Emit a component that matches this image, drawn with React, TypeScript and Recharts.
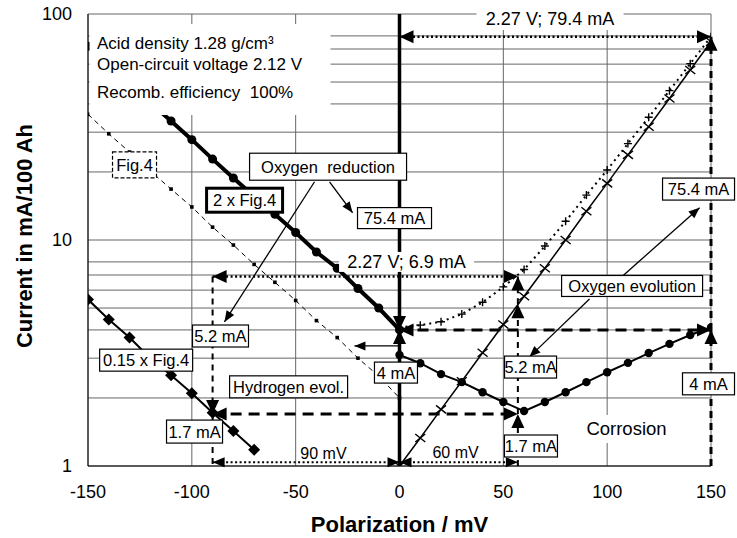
import {
  CartesianGrid,
  ComposedChart,
  Line,
  ReferenceDot,
  ReferenceLine,
  XAxis,
  YAxis,
} from 'recharts';

const FONT = '"Liberation Sans", Arial, Helvetica, sans-serif';

// cathodic side, -150 ... 0 mV
const cathodicX = [-150, -140, -130, -120, -110, -100, -90, -80, -70, -60, -50, -40, -30, -20, -10, 0];
const fig4Current = [36, 29.5, 24.5, 20.2, 16.8, 14, 11.4, 9.5, 7.8, 6.5, 5.4, 4.4, 3.7, 3.0, 2.5, 2.0];
const doubleFig4Current = [72, 59, 49, 40.5, 33.6, 27.8, 22.8, 18.8, 15.6, 13.0, 10.8, 8.85, 7.5, 6.1, 5.0, 4.0];

// hydrogen evolution (0.15 x Fig.4), -150 ... -70 mV
const hydrogenX = [-150, -140, -130, -120, -110, -100, -90, -80, -70];
const hydrogenCurrent = [5.45, 4.45, 3.7, 3.0, 2.52, 2.1, 1.72, 1.43, 1.18];

// anodic side, 0 ... 150 mV
const anodicX = [0, 10, 20, 30, 40, 50, 60, 70, 80, 90, 100, 110, 120, 130, 140, 150];
const corrosionCurrent = [3.1, 2.85, 2.55, 2.35, 2.12, 1.92, 1.75, 1.92, 2.12, 2.35, 2.6, 2.86, 3.16, 3.47, 3.8, 4.1];
const oxygenEvolutionCurrent = [1.0, 1.33, 1.78, 2.37, 3.17, 4.23, 5.64, 7.5, 10.0, 13.4, 17.8, 23.8, 31.7, 42.3, 56.5, 75.4];
const totalAnodicCurrent = [4.1, 4.2, 4.35, 4.7, 5.3, 6.2, 7.4, 9.4, 12.1, 15.8, 20.4, 26.7, 34.9, 45.8, 60.3, 79.4];

const xTicks = [-150, -100, -50, 0, 50, 100, 150];
const yTicks = [1, 2, 3, 4, 5, 6, 7, 8, 9, 10, 20, 30, 40, 50, 60, 70, 80, 90, 100];
const yTickLabels = [1, 10, 100];

const toPoints = (xs: number[], ys: number[]) => xs.map((x, i) => ({ x, y: ys[i] }));

const fig4Data = toPoints(cathodicX, fig4Current);
const doubleFig4Data = toPoints(cathodicX, doubleFig4Current);
const hydrogenData = toPoints(hydrogenX, hydrogenCurrent);
const corrosionData = toPoints(anodicX, corrosionCurrent);
const oxygenData = toPoints(anodicX, oxygenEvolutionCurrent);
const totalData = toPoints(anodicX, totalAnodicCurrent);

// ---- markers
const circleDot = (r: number) => (p: any) => (
  <circle key={`c-${p.index}`} cx={p.cx} cy={p.cy} r={r} fill="#000" />
);
const squareDot = (p: any) => (
  <rect key={`s-${p.index}`} x={p.cx - 1.8} y={p.cy - 1.8} width={3.6} height={3.6} fill="#000" />
);
const diamondDot = (p: any) => (
  <polygon
    key={`d-${p.index}`}
    points={`${p.cx},${p.cy - 6} ${p.cx + 6},${p.cy} ${p.cx},${p.cy + 6} ${p.cx - 6},${p.cy}`}
    fill="#000"
  />
);
const crossDot = (p: any) => (
  <path
    key={`x-${p.index}`}
    d={`M${p.cx - 5},${p.cy - 4}L${p.cx + 5},${p.cy + 4}M${p.cx - 5},${p.cy + 4}L${p.cx + 5},${p.cy - 4}`}
    stroke="#000"
    strokeWidth={1.4}
  />
);
const plusDot = (p: any) => (
  <path
    key={`p-${p.index}`}
    d={`M${p.cx - 4},${p.cy}L${p.cx + 4},${p.cy}M${p.cx},${p.cy - 4}L${p.cx},${p.cy + 4}`}
    stroke="#000"
    strokeWidth={1.4}
  />
);

// ---- arrows
const headPoints = (tx: number, ty: number, fx: number, fy: number, len: number, half: number) => {
  const dx = tx - fx;
  const dy = ty - fy;
  const d = Math.hypot(dx, dy) || 1;
  const ux = dx / d;
  const uy = dy / d;
  const bx = tx - ux * len;
  const by = ty - uy * len;
  return `${tx},${ty} ${bx - uy * half},${by + ux * half} ${bx + uy * half},${by - ux * half}`;
};

type ArrowStyle = { w: number; dash?: string; start?: boolean; end?: boolean; len?: number; half?: number };

const arrowShape = (s: ArrowStyle) => (p: any) => {
  const { x1, y1, x2, y2 } = p;
  const len = s.len ?? 14;
  const half = s.half ?? 6.5;
  return (
    <g>
      <line x1={x1} y1={y1} x2={x2} y2={y2} stroke="#000" strokeWidth={s.w} strokeDasharray={s.dash} />
      {s.start && <polygon points={headPoints(x1, y1, x2, y2, len, half)} fill="#000" />}
      {s.end && <polygon points={headPoints(x2, y2, x1, y1, len, half)} fill="#000" />}
    </g>
  );
};

const DOTTED: ArrowStyle = { w: 2.5, dash: '2 2.5' };
const BOLD_DASH: ArrowStyle = { w: 3, dash: '11 7' };
const THIN_DASH: ArrowStyle = { w: 2, dash: '6 5' };
const POINTER: ArrowStyle = { w: 1.3, end: true, len: 11, half: 4.5 };

type Arrow = { from: [number, number]; to: [number, number]; style: ArrowStyle };

const arrows: Arrow[] = [
  // 2.27 V; 79.4 mA
  { from: [0, 79.4], to: [150, 79.4], style: { ...DOTTED, start: true, end: true } },
  { from: [150, 1], to: [150, 4], style: { ...BOLD_DASH, dash: '7 5', end: true } },
  { from: [150, 4], to: [150, 79.4], style: { ...BOLD_DASH, dash: '7 5', end: true } },
  { from: [0, 4], to: [150, 4], style: { ...BOLD_DASH, start: true, end: true } },
  // zero line
  { from: [0, 100], to: [0, 4], style: { w: 3.5, end: true } },
  { from: [0, 1], to: [0, 4], style: { w: 3.5, end: true } },
  // 2.27 V; 6.9 mA
  { from: [-90, 6.9], to: [57, 6.9], style: { ...DOTTED, start: true, end: true } },
  { from: [-90, 6.9], to: [-90, 1.7], style: { ...THIN_DASH, end: true } },
  { from: [-90, 1.7], to: [-90, 1], style: THIN_DASH },
  { from: [57, 1], to: [57, 1.7], style: { ...THIN_DASH, end: true } },
  { from: [57, 1.7], to: [57, 5.2], style: { ...THIN_DASH, end: true } },
  { from: [57, 5.2], to: [57, 6.9], style: { ...THIN_DASH, end: true } },
  { from: [-90, 1.7], to: [57, 1.7], style: { ...BOLD_DASH, start: true, end: true } },
  // 90 mV / 60 mV
  { from: [-90, 1.04], to: [0, 1.04], style: { ...DOTTED, w: 2, start: true, end: true, len: 12, half: 5 } },
  { from: [0, 1.04], to: [57, 1.04], style: { ...DOTTED, w: 2, start: true, end: true, len: 12, half: 5 } },
  // label pointers
  { from: [-40.9, 18.1], to: [-84.3, 4.34], style: POINTER },
  { from: [-33.7, 18.1], to: [-22.6, 13.2], style: POINTER },
  { from: [91.5, 5.48], to: [62.6, 3.04], style: POINTER },
  { from: [106.9, 6.86], to: [144.5, 13.9], style: POINTER },
  { from: [0, 3.4], to: [-21.7, 3.4], style: { ...POINTER, w: 1.2 } },
];

// ---- text boxes
type Note = { text: string; x: number; y: number; w: number; h: number; frame?: 'solid' | 'thick' | 'dashed' | 'none'; size?: number };

const notes: Note[] = [
  { text: '2.27 V; 79.4 mA', x: 72.5, y: 95, w: 147, h: 22, frame: 'none', size: 18 },
  { text: '2.27 V; 6.9 mA', x: 3.4, y: 8.0, w: 135, h: 20, frame: 'none', size: 18 },
  { text: 'Oxygen  reduction', x: -34.4, y: 21.1, w: 157, h: 27 },
  { text: '75.4 mA', x: -2.4, y: 12.5, w: 74, h: 21 },
  { text: '2 x Fig.4', x: -74.6, y: 15.0, w: 76, h: 24, frame: 'thick' },
  { text: 'Fig.4', x: -127.6, y: 21.5, w: 44, h: 26, frame: 'dashed' },
  { text: '0.15 x Fig.4', x: -122, y: 2.94, w: 93, h: 22 },
  { text: '5.2 mA', x: -86.2, y: 3.76, w: 56, h: 22 },
  { text: 'Hydrogen evol.', x: -53.4, y: 2.24, w: 118, h: 22 },
  { text: '1.7 mA', x: -98.7, y: 1.42, w: 56, h: 23 },
  { text: '4 mA', x: -1.7, y: 2.59, w: 43, h: 21 },
  { text: '5.2 mA', x: 63.1, y: 2.74, w: 52, h: 22 },
  { text: '1.7 mA', x: 63.3, y: 1.226, w: 53, h: 22 },
  { text: '4 mA', x: 148.8, y: 2.31, w: 52, h: 22 },
  { text: 'Oxygen evolution', x: 112, y: 6.26, w: 141, h: 21 },
  { text: '75.4 mA', x: 144, y: 16.8, w: 72, h: 22 },
  { text: 'Corrosion', x: 109.3, y: 1.458, w: 90, h: 28, frame: 'none', size: 18.5 },
  { text: '90 mV', x: -36.6, y: 1.14, w: 0, h: 0, frame: 'none', size: 16 },
  { text: '60 mV', x: 27, y: 1.15, w: 0, h: 0, frame: 'none', size: 16 },
];

const noteShape = (n: Note) => (p: any) => {
  const frame = n.frame ?? 'solid';
  return (
    <g>
      {n.w > 0 && (
        <rect
          x={p.cx - n.w / 2}
          y={p.cy - n.h / 2}
          width={n.w}
          height={n.h}
          fill="#fff"
          stroke={frame === 'none' ? 'none' : '#000'}
          strokeWidth={frame === 'thick' ? 3 : 1.2}
          strokeDasharray={frame === 'dashed' ? '4 2' : undefined}
        />
      )}
      <text
        x={p.cx}
        y={p.cy}
        textAnchor="middle"
        dominantBaseline="central"
        fontFamily={FONT}
        fontSize={n.size ?? 16.5}
        fill="#000"
        style={{ whiteSpace: 'pre' }}
      >
        {n.text}
      </text>
    </g>
  );
};

const infoLines = ['Acid density 1.28 g/cm³', 'Open-circuit voltage 2.12 V', 'Recomb. efficiency  100%'];
const infoOffsets = [29, 50, 78];

const infoShape = (p: any) => (
  <g>
    <rect x={p.cx + 1.5} y={p.cy + 10} width={241} height={91} fill="#fff" />
    {infoLines.map((t, i) => (
      <text
        key={t}
        x={p.cx + 9}
        y={p.cy + infoOffsets[i]}
        dominantBaseline="central"
        fontFamily={FONT}
        fontSize={17}
        fill="#000"
        style={{ whiteSpace: 'pre' }}
      >
        {t}
      </text>
    ))}
  </g>
);

const YTitle = (p: any) => {
  const vb = p.viewBox || { x: 0, y: 14, width: 88, height: 452 };
  const cx = vb.x + 24;
  const cy = vb.y + vb.height / 2 - 4;
  return (
    <text
      x={cx}
      y={cy}
      transform={`rotate(-90 ${cx} ${cy})`}
      textAnchor="middle"
      dominantBaseline="central"
      fontFamily={FONT}
      fontWeight="bold"
      fontSize={22}
      fill="#000"
    >
      Current in mA/100 Ah
    </text>
  );
};

const tickStyle = { fontSize: 18, fill: '#000', fontFamily: FONT };

export default function App() {
  return (
    <div style={{ position: 'absolute', left: 0, top: 0 }}>
      <ComposedChart width={737} height={538} margin={{ top: 14, right: 26, bottom: 0, left: 0 }}>
        <CartesianGrid stroke="#666" strokeWidth={1} />
        <XAxis
          type="number"
          dataKey="x"
          domain={[-150, 150]}
          ticks={xTicks}
          allowDataOverflow
          height={72}
          stroke="#000"
          tickLine={false}
          tickSize={0}
          tickMargin={19}
          tick={tickStyle}
          label={{
            value: 'Polarization / mV',
            position: 'insideBottom',
            offset: 6,
            fontSize: 22,
            fontWeight: 'bold',
            fill: '#000',
            fontFamily: FONT,
          }}
        />
        <YAxis
          type="number"
          dataKey="y"
          scale="log"
          domain={[1, 100]}
          ticks={yTicks}
          allowDataOverflow
          width={88}
          stroke="#000"
          tickLine={false}
          tickSize={0}
          tickMargin={16}
          tick={tickStyle}
          tickFormatter={(v: number) => (yTickLabels.includes(v) ? String(v) : '')}
          label={<YTitle />}
        />

        {arrows.map((a, i) => (
          <ReferenceLine
            key={`a-${i}`}
            segment={[
              { x: a.from[0], y: a.from[1] },
              { x: a.to[0], y: a.to[1] },
            ]}
            ifOverflow="visible"
            shape={arrowShape(a.style)}
          />
        ))}

        <Line data={fig4Data} dataKey="y" stroke="#000" strokeWidth={1} strokeDasharray="5 4" dot={squareDot} activeDot={false} isAnimationActive={false} />
        <Line data={doubleFig4Data} dataKey="y" stroke="#000" strokeWidth={4} dot={circleDot(4.5)} activeDot={false} isAnimationActive={false} />
        <Line data={hydrogenData} dataKey="y" stroke="#000" strokeWidth={2} dot={diamondDot} activeDot={false} isAnimationActive={false} />
        <Line data={corrosionData} dataKey="y" stroke="#000" strokeWidth={2} dot={circleDot(4.2)} activeDot={false} isAnimationActive={false} />
        <Line data={oxygenData} dataKey="y" stroke="#000" strokeWidth={1.5} dot={crossDot} activeDot={false} isAnimationActive={false} />
        <Line data={totalData} dataKey="y" stroke="#000" strokeWidth={2} strokeDasharray="2 4" dot={plusDot} activeDot={false} isAnimationActive={false} />

        <ReferenceDot x={-150} y={100} ifOverflow="visible" shape={infoShape} zIndex={2000} />
        {notes.map((n, i) => (
          <ReferenceDot key={`n-${i}`} x={n.x} y={n.y} ifOverflow="visible" shape={noteShape(n)} zIndex={2000} />
        ))}
      </ComposedChart>
    </div>
  );
}
